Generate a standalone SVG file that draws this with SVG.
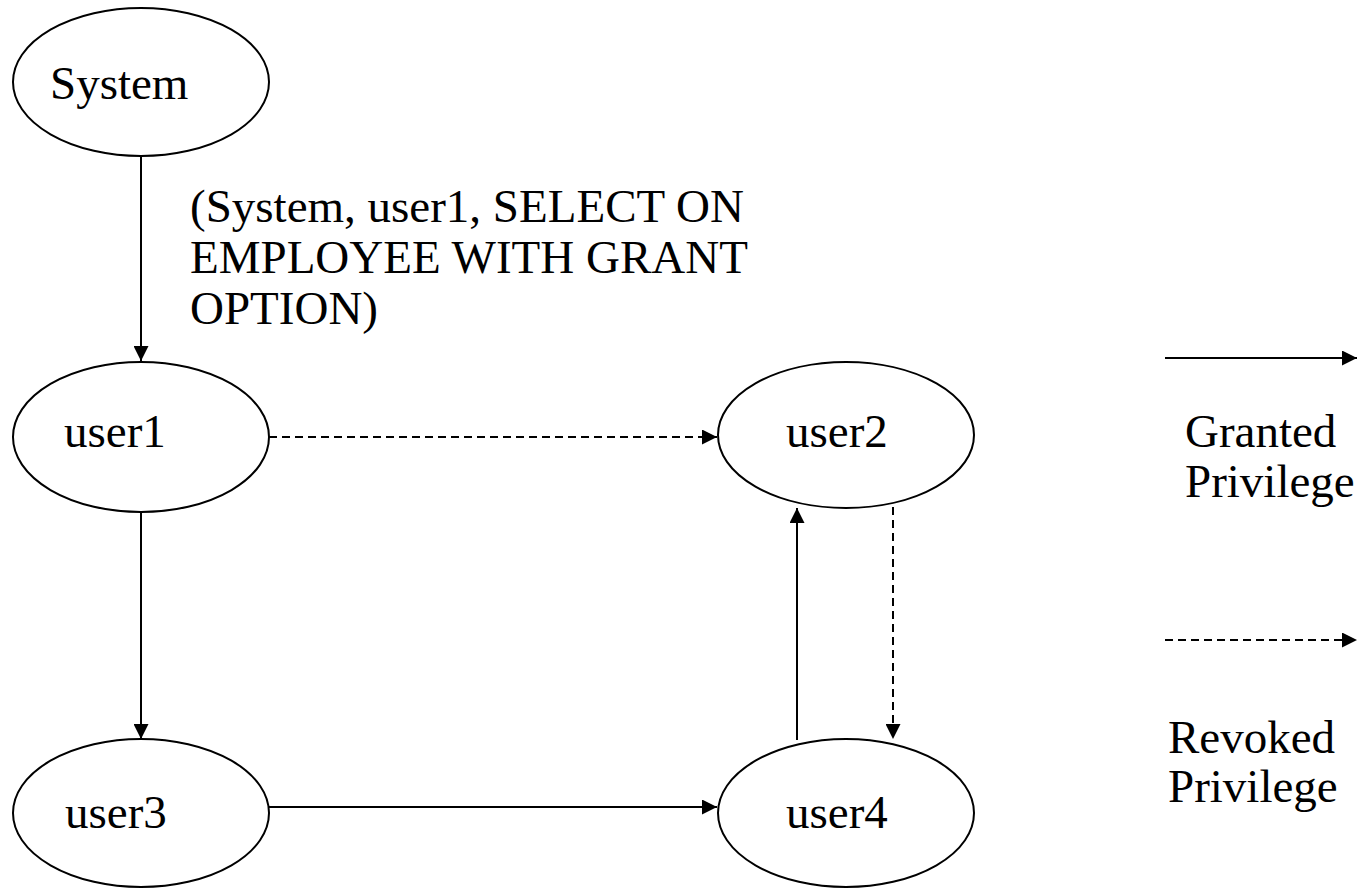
<svg xmlns="http://www.w3.org/2000/svg" width="1367" height="888" viewBox="0 0 1367 888">
  <style>
    .node { fill: #ffffff; stroke: #000000; stroke-width: 2; }
    .label { font-family: "Liberation Serif", "Times New Roman", serif; font-size: 47px; fill: #000000; }
    .edge { fill: none; stroke: #000000; stroke-width: 2; }
    .dashed { stroke-dasharray: 8 5; }
  </style>
  <defs>
    <marker id="arrow" viewBox="0 0 15 15" refX="15" refY="7.5" markerWidth="15" markerHeight="15" markerUnits="userSpaceOnUse" orient="auto">
      <path d="M0,0 L15,7.5 L0,15 Z" fill="#000000"/>
    </marker>
  </defs>

  <rect x="0" y="0" width="1367" height="888" fill="#ffffff"/>

  <!-- connectors -->
  <g id="connectors">
    <line class="edge" x1="141" y1="157" x2="141" y2="361" marker-end="url(#arrow)"/>
    <line class="edge dashed" x1="269" y1="437" x2="717" y2="437" marker-end="url(#arrow)"/>
    <line class="edge" x1="141" y1="512" x2="141" y2="739" marker-end="url(#arrow)"/>
    <line class="edge" x1="268" y1="807" x2="717" y2="807" marker-end="url(#arrow)"/>
    <line class="edge" x1="797" y1="740" x2="797" y2="508" marker-end="url(#arrow)"/>
    <line class="edge dashed" x1="893" y1="507" x2="893" y2="739" marker-end="url(#arrow)"/>
    <text class="label" x="190">
      <tspan x="190" y="222">(System, user1, SELECT ON</tspan>
      <tspan x="190" y="273">EMPLOYEE WITH GRANT</tspan>
      <tspan x="190" y="324">OPTION)</tspan>
    </text>
  </g>

  <!-- nodes -->
  <g id="node-system">
    <ellipse class="node" cx="141" cy="82" rx="128" ry="74"/>
    <text class="label" x="50" y="99">System</text>
  </g>
  <g id="node-user1">
    <ellipse class="node" cx="141" cy="437" rx="128" ry="75"/>
    <text class="label" x="64" y="447">user1</text>
  </g>
  <g id="node-user2">
    <ellipse class="node" cx="846" cy="435" rx="128" ry="73"/>
    <text class="label" x="786" y="447">user2</text>
  </g>
  <g id="node-user3">
    <ellipse class="node" cx="141" cy="813" rx="128" ry="74"/>
    <text class="label" x="65" y="828">user3</text>
  </g>
  <g id="node-user4">
    <ellipse class="node" cx="846" cy="813" rx="128" ry="74"/>
    <text class="label" x="786" y="828">user4</text>
  </g>

  <!-- legend -->
  <g id="legend">
    <line class="edge" x1="1165" y1="358" x2="1357" y2="358" marker-end="url(#arrow)"/>
    <text class="label" x="1185" y="447">Granted</text>
    <text class="label" x="1185" y="497">Privilege</text>
    <line class="edge dashed" x1="1165" y1="640" x2="1357" y2="640" marker-end="url(#arrow)"/>
    <text class="label" x="1168" y="753">Revoked</text>
    <text class="label" x="1168" y="802">Privilege</text>
  </g>
</svg>
